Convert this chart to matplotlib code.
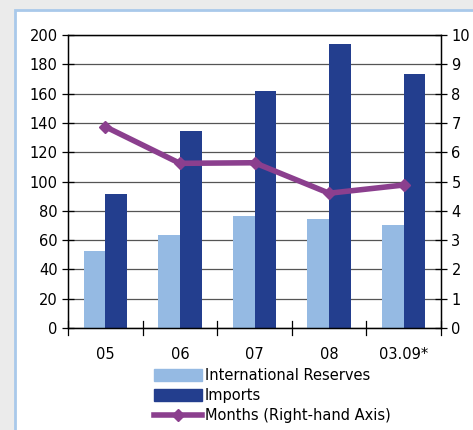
import matplotlib.pyplot as plt
import numpy as np
from matplotlib.patches import Rectangle
from matplotlib.lines import Line2D

periods = ['05', '06', '07', '08', '03.09*']
reserves = [52.6, 63.5, 76.7, 74.4, 70.3]
imports = [91.5, 134.7, 161.8, 194.0, 173.4]
months = [6.87, 5.62, 5.64, 4.6, 4.88]

c_res = '#95bae3'
c_imp = '#233e8e'
c_mon = '#8b3f8e'

plt.rcParams['font.family'] = 'DejaVu Sans'
plt.rcParams['font.size'] = 10.5

fig = plt.figure(figsize=(4.73, 4.30), dpi=100)
fig.patch.set_facecolor('#ebebeb')
# white panel with light blue frame
fig.patches.append(Rectangle((15 / 473, -0.05), 1.0, 1 - 10 / 430 + 0.05,
                             transform=fig.transFigure, facecolor='white',
                             edgecolor='#a9c9ea', linewidth=2, zorder=-5))

ax = fig.add_axes([68 / 473, 1 - 328 / 430, 373 / 473, 293 / 430])
ax.set_facecolor('none')
x = np.arange(len(periods))
w = 0.29
ax.bar(x - w / 2, reserves, w, color=c_res, zorder=2)
ax.bar(x + w / 2, imports, w, color=c_imp, zorder=2)
ax.set_xlim(-0.5, len(periods) - 0.5)
ax.set_ylim(0, 200)
ax.set_yticks(np.arange(0, 201, 20))
ax.yaxis.grid(True, color='#555555', linewidth=0.9, zorder=1)
ax.set_axisbelow(True)
ax.set_xticks(x)
ax.set_xticklabels(periods)
ax.tick_params(axis='x', length=0, pad=14)
ax.tick_params(axis='y', direction='inout', length=8, width=0.9)
for xb in np.arange(-0.5, len(periods), 1.0):
    ax.plot([xb, xb], [-5, 5], color='black', linewidth=0.9, clip_on=False, zorder=3)
for s in ax.spines.values():
    s.set_linewidth(1.0)

ax2 = ax.twinx()
ax2.plot(x, months, color=c_mon, linewidth=4, marker='D', markersize=6, zorder=4)
ax2.set_ylim(0, 10)
ax2.set_yticks(range(0, 11))
ax2.tick_params(axis='y', direction='inout', length=8, width=0.9)

handles = [Rectangle((0, 0), 1, 1, color=c_res),
           Rectangle((0, 0), 1, 1, color=c_imp),
           Line2D([], [], color=c_mon, linewidth=4, marker='D', markersize=6)]
labels = ['International Reserves', 'Imports', 'Months (Right-hand Axis)']
fig.legend(handles, labels, loc='upper left', bbox_to_anchor=(154 / 473, 1 - 368 / 430),
           frameon=False, handlelength=3.3, handleheight=0.9, handletextpad=0.2,
           labelspacing=0.35, borderaxespad=0, borderpad=0)

fig.savefig('out.png', dpi=100, facecolor=fig.get_facecolor())
